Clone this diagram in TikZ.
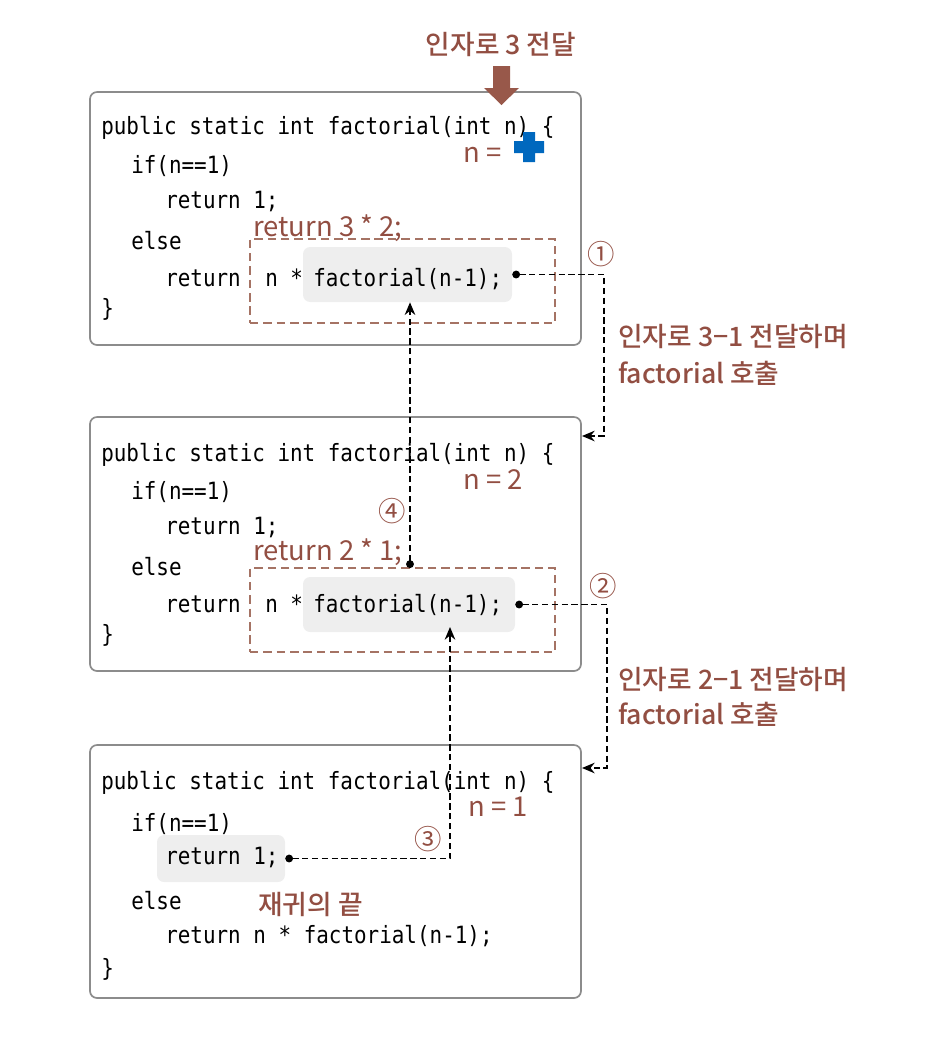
\documentclass[tikz,border=0pt]{standalone}
\usepackage{fontspec}
\setmainfont{Noto Sans CJK KR}
\newfontfamily\codefont[FakeStretch=0.88]{DejaVu Sans Mono}
\newfontfamily\kofont{Noto Sans CJK KR Medium}
\newfontfamily\kothin{Noto Sans CJK KR}
\usetikzlibrary{arrows.meta,fit}
\definecolor{callbrown}{RGB}{146,78,66}
\definecolor{arrowbrown}{RGB}{152,88,74}
\definecolor{retbrown}{RGB}{165,115,100}
\definecolor{hlgray}{RGB}{238,238,238}
\definecolor{framegray}{RGB}{140,140,140}
\definecolor{crossblue}{RGB}{0,104,190}

\begin{document}
\begin{tikzpicture}[x=0.025cm, y=-0.025cm,
    codeframe/.style={draw=framegray, line width=1.2pt, rounded corners=5pt, inner sep=0pt},
    retbox/.style={draw=retbrown, line width=1.2pt, dash pattern=on 6pt off 3.5pt, inner sep=0pt},
    hl/.style={fill=hlgray, rounded corners=5pt, inner sep=0pt},
    codeline/.style={anchor=west, inner sep=0pt, text height=12.5pt, text depth=3.5pt, font=\codefont\fontsize{16.9pt}{20pt}\selectfont},
    lbl/.style={inner sep=0pt, text=callbrown, text height=14pt, text depth=0.5pt, font=\kofont\fontsize{19pt}{23pt}\selectfont},
    thinlbl/.style={lbl, font=\kothin\fontsize{19.5pt}{23pt}\selectfont},
    flow/.style={line width=1.2pt, dash pattern=on 4.5pt off 2.5pt, {Circle[length=5.5pt]}-{Stealth[length=9pt,width=7.5pt]}}]
  \useasboundingbox (0,0) rectangle (949,1041);
  % frames, highlights, return boxes
  \node[codeframe, fit={(90,92) (581,345)}] (frame1) {};
  \node[codeframe, fit={(90,417) (581,671)}] (frame2) {};
  \node[codeframe, fit={(90,745) (581,998)}] (frame3) {};
  \node[hl, fit={(303,247) (512,302)}] (hl1) {};
  \node[hl, fit={(303,577) (515,632)}] (hl2) {};
  \node[hl, fit={(157,835) (285,882)}] (hl3) {};
  \node[retbox, fit={(250,239) (555,323)}] (ret1) {};
  \node[retbox, fit={(250,568) (555,652)}] (ret2) {};
  % first call
  \node[codeline] (sig1) at (101,128) {public static int factorial(int n) \{};
  \node[codeline] (if1) at (131,167) {if(n==1)};
  \node[codeline] (one1) at (165,202) {return 1;};
  \node[codeline] (else1) at (131,243) {else};
  \node[codeline] (rec1) at (165,280) {return};
  \node[codeline] (mul1) at (265,280) {n *};
  \node[codeline] (call1) at (313,280) {factorial(n-1);};
  \node[codeline] (end1) at (101,310) {\}};
  % second call
  \node[codeline] (sig2) at (101,455) {public static int factorial(int n) \{};
  \node[codeline] (if2) at (131,493) {if(n==1)};
  \node[codeline] (one2) at (165,528) {return 1;};
  \node[codeline] (else2) at (131,569) {else};
  \node[codeline] (rec2) at (165,606) {return};
  \node[codeline] (mul2) at (265,606) {n *};
  \node[codeline] (call2) at (313,606) {factorial(n-1);};
  \node[codeline] (end2) at (101,636) {\}};
  % third call
  \node[codeline] (sig3) at (101,783) {public static int factorial(int n) \{};
  \node[codeline] (if3) at (131,825) {if(n==1)};
  \node[codeline] (one3) at (165,858) {return 1;};
  \node[codeline] (else3) at (131,903) {else};
  \node[codeline] (rec3) at (165,937) {return n * factorial(n-1);};
  \node[codeline] (end3) at (101,970) {\}};
  % labels
  \node[lbl] (arg3) at (501,45) {인자로 3 전달};
  \fill[arrowbrown] (493,66) -- (510,66) -- (510,88) -- (519,88) -- (501.5,105) -- (484,88) -- (493,88) -- cycle;
  \node[thinlbl, anchor=west] (neq1) at (463,153) {n =};
  \fill[crossblue] (523,132) -- (535,132) -- (535,141) -- (544,141) -- (544,153) -- (535,153) -- (535,162)
    -- (523,162) -- (523,153) -- (514,153) -- (514,141) -- (523,141) -- cycle;
  \node[thinlbl, anchor=west] (retlbl1) at (253,227) {return 3 * 2;};
  \node[thinlbl, anchor=west] (neq2) at (463,480) {n = 2};
  \node[thinlbl, anchor=west] (retlbl2) at (253,551) {return 2 * 1;};
  \node[thinlbl, anchor=west] (neq3) at (468,807) {n = 1};
  \node[lbl, anchor=west] (stop) at (258,905) {재귀의 끝};
  \node[thinlbl] (step1) at (601,255) {①};
  \node[thinlbl] (step2) at (603,587) {②};
  \node[thinlbl] (step3) at (428,840) {③};
  \node[thinlbl] (step4) at (392,512) {④};
  \node[lbl, anchor=west] (pass2a) at (618,337) {인자로 3−1 전달하며};
  \node[lbl, anchor=west] (pass2b) at (618,374) {factorial 호출};
  \node[lbl, anchor=west] (pass3a) at (618,680) {인자로 2−1 전달하며};
  \node[lbl, anchor=west] (pass3b) at (618,715) {factorial 호출};
  % connectors
  \coordinate (in2) at (582,436);
  \coordinate (in3) at (582,768);
  \coordinate (up4) at (410,568);
  \coordinate (up3) at (450,627);
  \draw[flow] (hl1.east) -- ++(92,0) |- (in2);
  \draw[flow] (hl2.east) -- ++(92,0) |- (in3);
  \draw[flow] (hl3.east) -| (up3);
  \draw[flow] (up4) -- (up4 |- hl1.south);
\end{tikzpicture}
\end{document}
